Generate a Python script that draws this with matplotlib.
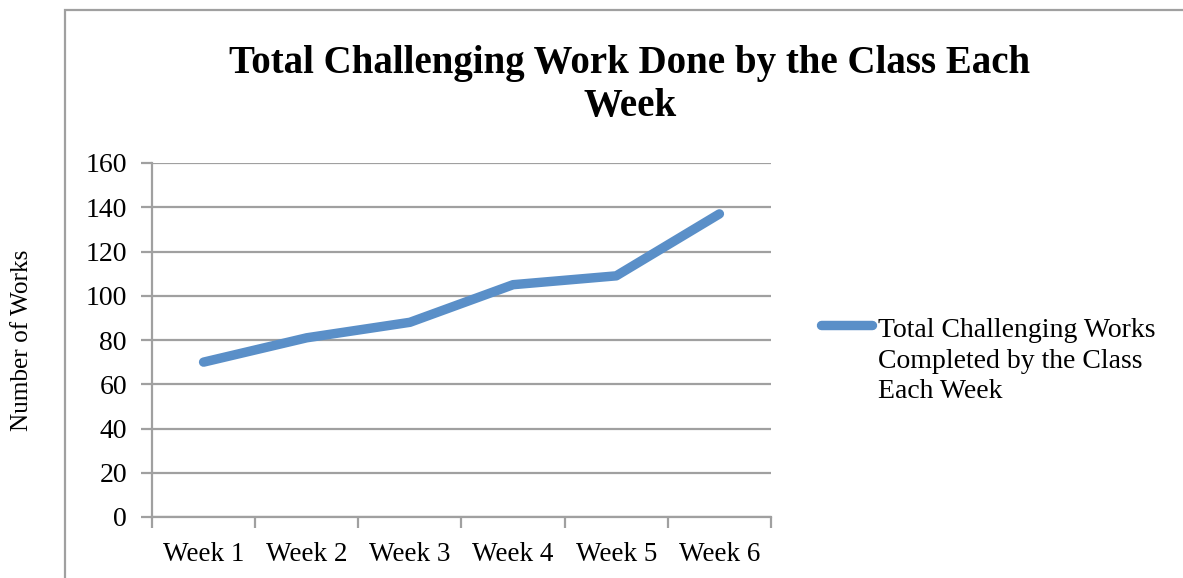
import matplotlib
matplotlib.use("Agg")
import matplotlib.pyplot as plt
from matplotlib.patches import Rectangle
from matplotlib.lines import Line2D

categories = ["Week 1", "Week 2", "Week 3", "Week 4", "Week 5", "Week 6"]
values = [70, 81, 88, 105, 109, 137]
series_name = "Total Challenging Works\nCompleted by the Class\nEach Week"
title = "Total Challenging Work Done by the Class Each\nWeek"
ylabel = "Number of Works"
yticks = [0, 20, 40, 60, 80, 100, 120, 140, 160]

plt.rcParams['font.family'] = ['Liberation Serif', 'DejaVu Serif']

W, H = 1183, 578
fig = plt.figure(figsize=(W / 100, H / 100), dpi=100)
ax = fig.add_axes([152 / W, 1 - 517 / H, (771 - 152) / W, (517 - 163) / H])

grid_c = '#A0A0A0'
line_c = '#5A8FC8'
x = list(range(len(categories)))
ax.plot(x, values, color=line_c, lw=6.8, solid_capstyle='round',
        solid_joinstyle='round', zorder=3)

ax.set_xlim(-0.5, len(categories) - 0.5)
ax.set_ylim(0, 160)
ax.set_yticks(yticks)
ax.set_yticklabels([str(v) for v in yticks], fontsize=20)
ax.yaxis.grid(True, color=grid_c, lw=1.6)
ax.set_axisbelow(True)

ax.set_xticks(x)
ax.set_xticklabels(categories, fontsize=19.5)
ax.tick_params(axis='x', length=0, pad=18)
ax.set_xticks([i - 0.5 for i in range(len(categories) + 1)], minor=True)
ax.tick_params(axis='x', which='minor', length=8, width=1.6, color=grid_c, direction='out')
ax.tick_params(axis='y', length=8, width=1.6, color=grid_c, direction='out', pad=10)

for s in ['top', 'right']:
    ax.spines[s].set_visible(False)
for s in ['left', 'bottom']:
    ax.spines[s].set_color(grid_c)
    ax.spines[s].set_linewidth(1.6)

fig.text(22 / W, 1 - 340 / H, ylabel, rotation=90, ha='center', va='center', fontsize=18.2)
fig.text(630 / W, 1 - 85 / H, title, ha='center', va='center', fontsize=28,
         fontweight='bold', linespacing=1.22)

# legend (handle aligned with first text line)
fig.add_artist(Line2D([821 / W, 872 / W], [1 - 325 / H, 1 - 325 / H], transform=fig.transFigure,
                      color=line_c, lw=6.8, solid_capstyle='round'))
fig.text(878 / W, 1 - 318 / H, series_name, ha='left', va='top', fontsize=20, linespacing=1.3)

frame = Rectangle((65 / W, -0.2), 1.3, (1 - 10 / H) + 0.2, transform=fig.transFigure,
                  fill=False, edgecolor='#A0A0A0', lw=1.6, clip_on=False)
fig.patches.append(frame)

fig.savefig("out.png", dpi=100)
